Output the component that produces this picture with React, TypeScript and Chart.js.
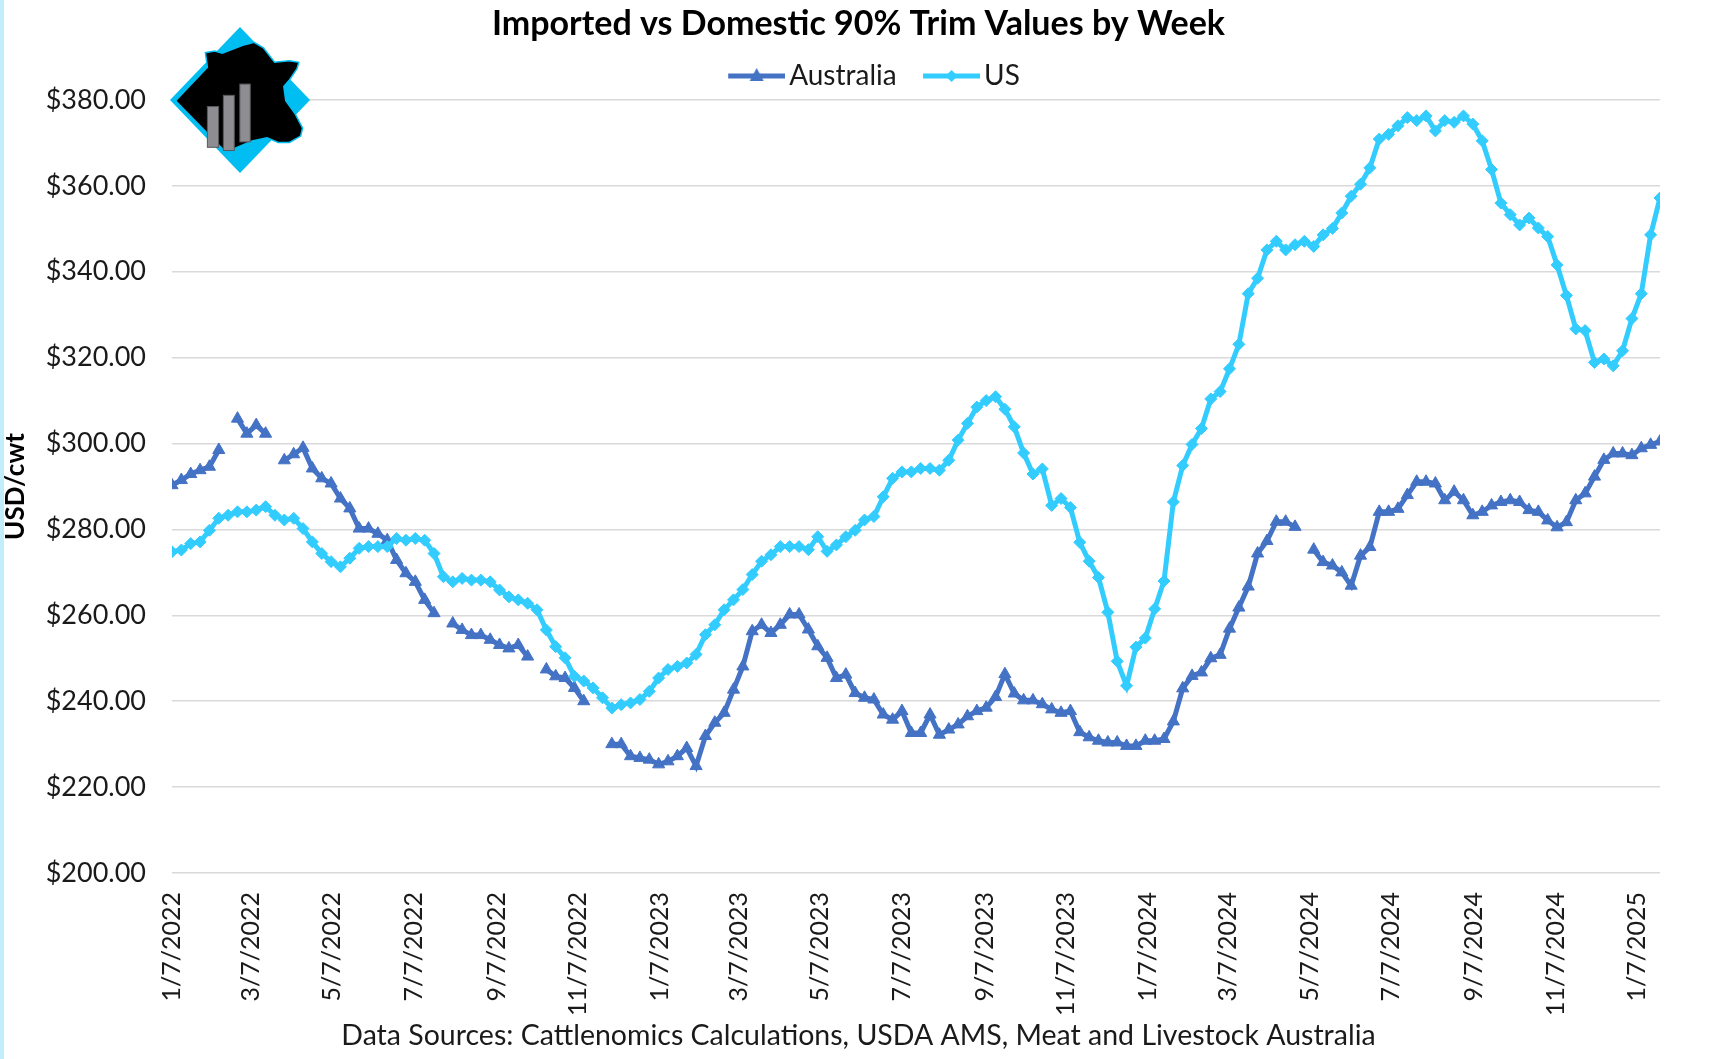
import React, { useEffect, useRef } from 'react';
import { Chart, registerables } from 'chart.js';

Chart.register(...registerables);

const titleText = 'Imported vs Domestic 90% Trim Values by Week';
const sourceText = 'Data Sources: Cattlenomics Calculations, USDA AMS, Meat and Livestock Australia';
const yAxisTitle = 'USD/cwt';
const seriesNames = ['Australia', 'US'];
const firstWeek = '1/7/2022'; // weekly observations start here, one per week
const daysPerWeek = 7;

const australia: (number | null)[] = [
  290.3, 291.5, 292.9, 293.8, 294.6, 298.5, null, 305.8, 302.3, 304.3,
  302.3, null, 296.1, 297.5, 299.0, 294.2, 291.9, 290.7, 287.2, 284.9,
  280.2, 280.2, 279.0, 277.5, 272.9, 269.8, 267.8, 263.6, 260.5, null,
  258.1, 256.6, 255.4, 255.4, 254.3, 253.1, 252.3, 253.1, 250.4, null,
  247.4, 245.8, 245.4, 243.1, 240.0, null, null, 230.0, 230.0, 227.2,
  226.8, 226.4, 225.3, 226.0, 227.2, 229.1, 224.9, 231.9, 235.0, 237.3,
  242.7, 248.1, 256.3, 257.8, 255.9, 257.8, 260.2, 260.2, 256.7, 252.8,
  250.1, 245.4, 246.2, 241.9, 240.8, 240.4, 236.9, 235.7, 237.7, 232.6,
  232.6, 236.9, 232.2, 233.4, 234.6, 236.5, 237.7, 238.5, 241.0, 246.3,
  241.8, 240.2, 240.2, 239.3, 238.1, 237.3, 237.7, 232.8, 231.6, 230.8,
  230.4, 230.4, 229.6, 229.6, 230.8, 230.8, 231.2, 235.3, 243.0, 245.9,
  246.7, 250.0, 250.8, 256.9, 261.8, 266.7, 274.4, 277.3, 281.8, 281.8,
  280.6, null, 275.3, 272.4, 271.6, 270.0, 266.9, 273.9, 275.9, 284.1,
  284.1, 284.8, 288.0, 291.1, 291.1, 290.7, 286.8, 288.8, 286.8, 283.3,
  284.1, 285.6, 286.4, 286.8, 286.4, 284.5, 284.1, 282.1, 280.5, 281.7,
  286.8, 288.4, 292.3, 296.2, 297.7, 297.7, 297.3, 298.9, 299.7, 300.5,
];

const us: (number | null)[] = [
  274.8, 275.2, 276.7, 277.1, 279.8, 282.6, 283.3, 284.1, 284.1, 284.5,
  285.3, 283.3, 282.2, 282.6, 280.2, 277.1, 274.4, 272.5, 271.3, 273.3,
  275.6, 276.0, 276.0, 276.0, 277.9, 277.5, 277.9, 277.5, 274.4, 269.0,
  267.8, 268.6, 268.2, 268.2, 267.8, 265.9, 264.3, 263.6, 262.8, 261.3,
  256.6, 252.7, 250.1, 245.8, 244.7, 243.1, 240.8, 238.4, 239.2, 239.6,
  240.4, 242.3, 245.4, 247.4, 248.1, 248.9, 250.9, 255.5, 257.8, 261.3,
  263.6, 266.0, 269.5, 272.6, 274.1, 276.0, 276.0, 276.0, 275.3, 278.3,
  274.9, 276.4, 278.3, 279.8, 282.2, 283.0, 287.6, 291.9, 293.4, 293.4,
  294.2, 294.2, 293.8, 296.1, 300.8, 304.7, 308.5, 310.0, 310.9, 308.0,
  303.9, 297.8, 292.9, 294.1, 285.6, 287.2, 285.1, 277.0, 272.6, 268.8,
  260.7, 249.3, 243.6, 252.6, 254.7, 261.5, 268.0, 286.4, 294.9, 299.8,
  303.5, 310.4, 312.1, 317.4, 323.1, 334.9, 338.5, 345.1, 347.1, 345.1,
  346.3, 347.1, 345.9, 348.6, 350.1, 353.7, 357.6, 360.4, 364.2, 370.9,
  372.0, 374.0, 375.9, 375.2, 376.3, 372.8, 375.2, 374.8, 376.3, 374.4,
  370.5, 363.8, 356.0, 353.3, 350.9, 352.5, 350.2, 348.2, 341.6, 334.5,
  326.7, 326.3, 318.9, 319.7, 318.1, 321.6, 329.1, 334.9, 348.6, 357.2,
];

const xTickLabels = [
  '1/7/2022', '3/7/2022', '5/7/2022', '7/7/2022', '9/7/2022', '11/7/2022',
  '1/7/2023', '3/7/2023', '5/7/2023', '7/7/2023', '9/7/2023', '11/7/2023',
  '1/7/2024', '3/7/2024', '5/7/2024', '7/7/2024', '9/7/2024', '11/7/2024',
  '1/7/2025',
];
const yMin = 200;
const yMax = 380;
const yStep = 20;

const AU_COLOR = '#4472C4';
const US_COLOR = '#33CCFF';
const FONT = 'Lato';

function parseMDY(s: string) {
  const [m, d, y] = s.split('/').map(Number);
  return Date.UTC(y, m - 1, d);
}
const DAY_MS = 86400000;
const t0 = parseMDY(firstWeek);
const tickDays = xTickLabels.map((l) => (parseMDY(l) - t0) / DAY_MS);
const weekDay = (i: number) => i * daysPerWeek;

// legend sample: transparent lead-in, then a 57px line with a marker in its middle
function makeLegendMarker(color: string, shape: 'triangle' | 'diamond') {
  const c = document.createElement('canvas');
  c.width = 76;
  c.height = 22;
  const ctx = c.getContext('2d')!;
  const x0 = 19;
  const cx = 47.5;
  ctx.strokeStyle = color;
  ctx.lineWidth = 5;
  ctx.beginPath();
  ctx.moveTo(x0, 11);
  ctx.lineTo(76, 11);
  ctx.stroke();
  ctx.fillStyle = color;
  ctx.beginPath();
  if (shape === 'triangle') {
    ctx.moveTo(cx, 3);
    ctx.lineTo(cx + 7, 16);
    ctx.lineTo(cx - 7, 16);
  } else {
    ctx.moveTo(cx, 5);
    ctx.lineTo(cx + 6, 11);
    ctx.lineTo(cx, 17);
    ctx.lineTo(cx - 6, 11);
  }
  ctx.closePath();
  ctx.fill();
  return c;
}

// decorative logo (relative shape inside its box)
const logoBox = { x: 170, y: 27, w: 140, h: 146 };
const cowShape = [
  [0.04, 0.505], [0.267, 0.275], [0.253, 0.176], [0.32, 0.165], [0.373, 0.18],
  [0.533, 0.121], [0.6, 0.105], [0.667, 0.143], [0.747, 0.242], [0.853, 0.231],
  [0.92, 0.242], [0.907, 0.286], [0.853, 0.363], [0.813, 0.407], [0.827, 0.505],
  [0.893, 0.593], [0.947, 0.692], [0.933, 0.747], [0.853, 0.791], [0.773, 0.791],
  [0.693, 0.758], [0.587, 0.78], [0.427, 0.846], [0.387, 0.846],
];
const logoBars = [
  [0.267, 0.545, 0.347, 0.824],
  [0.381, 0.468, 0.459, 0.846],
  [0.499, 0.391, 0.573, 0.787],
];

const logoPlugin = {
  id: 'logo',
  afterDraw(chart: any) {
    const ctx = chart.ctx as CanvasRenderingContext2D;
    const { x, y, w, h } = logoBox;
    const px = (u: number) => x + u * w;
    const py = (v: number) => y + v * h;
    ctx.save();
    ctx.fillStyle = '#00BDF2';
    ctx.beginPath();
    ctx.moveTo(px(0), py(0.5));
    ctx.lineTo(px(0.5), py(0));
    ctx.lineTo(px(1), py(0.5));
    ctx.lineTo(px(0.5), py(1));
    ctx.closePath();
    ctx.fill();
    ctx.fillStyle = '#000';
    ctx.strokeStyle = '#00BDF2';
    ctx.lineWidth = 1.5;
    ctx.beginPath();
    cowShape.forEach(([u, v], i) => (i === 0 ? ctx.moveTo(px(u), py(v)) : ctx.lineTo(px(u), py(v))));
    ctx.closePath();
    ctx.fill();
    ctx.stroke();
    ctx.fillStyle = '#8E8E92';
    ctx.strokeStyle = '#5A5A5E';
    ctx.lineWidth = 1;
    logoBars.forEach(([u1, v1, u2, v2]) => {
      ctx.fillRect(px(u1), py(v1), px(u2) - px(u1), py(v2) - py(v1));
      ctx.strokeRect(px(u1), py(v1), px(u2) - px(u1), py(v2) - py(v1));
    });
    ctx.restore();
  },
};

// nudge the legend row slightly right, as in the original
const legendShift = 11;
const legendShiftPlugin = {
  id: 'legendShift',
  afterLayout(chart: any) {
    const lg = chart.legend;
    if (lg) {
      lg.left += legendShift;
      lg.right += legendShift;
    }
  },
};

export default function App() {
  const canvasRef = useRef<HTMLCanvasElement | null>(null);

  useEffect(() => {
    if (!canvasRef.current) return;
    const markers = [makeLegendMarker(AU_COLOR, 'triangle'), makeLegendMarker(US_COLOR, 'diamond')];
    const chart = new Chart(canvasRef.current, {
      type: 'line',
      data: {
        datasets: [
          {
            label: seriesNames[0],
            data: australia.map((v, i) => ({ x: weekDay(i), y: v })) as any,
            borderColor: AU_COLOR,
            backgroundColor: AU_COLOR,
            pointBackgroundColor: AU_COLOR,
            pointBorderColor: AU_COLOR,
            pointStyle: 'triangle',
            pointRadius: 7,
            pointBorderWidth: 1,
            borderWidth: 5,
            tension: 0,
            spanGaps: false,
            order: 1,
          },
          {
            label: seriesNames[1],
            data: us.map((v, i) => ({ x: weekDay(i), y: v })) as any,
            borderColor: US_COLOR,
            backgroundColor: US_COLOR,
            pointBackgroundColor: US_COLOR,
            pointBorderColor: US_COLOR,
            pointStyle: 'rectRot',
            pointRadius: 6,
            pointBorderWidth: 1,
            borderWidth: 5,
            tension: 0,
            spanGaps: false,
            order: 0,
          },
        ],
      },
      options: {
        animation: false,
        responsive: true,
        maintainAspectRatio: false,
        layout: { padding: 0 },
        plugins: {
          title: {
            display: true,
            text: titleText,
            color: '#000',
            font: { family: FONT, size: 34, weight: 'bold' },
            padding: { top: 3.8, bottom: 0 },
          },
          legend: {
            display: true,
            position: 'top',
            labels: {
              color: '#1a1a1a',
              font: { family: FONT, size: 28 },
              usePointStyle: true,
              pointStyleWidth: 56,
              padding: 17.4,
              sort: (a: any, b: any) => a.datasetIndex - b.datasetIndex,
              generateLabels: (ch: any) => {
                const items = Chart.defaults.plugins.legend.labels.generateLabels(ch);
                return items.map((it: any) => ({ ...it, pointStyle: markers[it.datasetIndex] }));
              },
            },
          },
          subtitle: {
            display: true,
            position: 'bottom',
            text: sourceText,
            color: '#1a1a1a',
            font: { family: FONT, size: 28.5 },
            padding: { top: 2, bottom: 5.9 },
          },
          tooltip: { enabled: false },
        },
        scales: {
          x: {
            type: 'linear',
            min: 0,
            max: weekDay(australia.length - 1),
            grid: { display: false, drawTicks: false },
            border: { display: false },
            afterBuildTicks: (scale: any) => {
              scale.ticks = tickDays.map((v) => ({ value: v }));
            },
            afterFit: (scale: any) => {
              scale.height = 143.9;
            },
            ticks: {
              autoSkip: false,
              minRotation: 90,
              maxRotation: 90,
              padding: 19,
              color: '#1a1a1a',
              font: { family: FONT, size: 25 },
              callback: (_v: any, i: number) => xTickLabels[i],
            },
          },
          y: {
            type: 'linear',
            position: 'left',
            min: yMin,
            max: yMax,
            grid: { color: '#D9D9D9', lineWidth: 1.5, drawTicks: false },
            border: { display: false },
            afterFit: (scale: any) => {
              scale.width = 172;
            },
            title: {
              display: true,
              text: yAxisTitle,
              color: '#000',
              font: { family: FONT, size: 26, weight: 'bold' },
              padding: { top: 0.4, bottom: 0 },
            },
            ticks: {
              stepSize: yStep,
              padding: 26,
              color: '#1a1a1a',
              font: { family: FONT, size: 27 },
              callback: (v: any) => '$' + Number(v).toFixed(2),
            },
          },
          y2: {
            type: 'linear',
            position: 'right',
            display: true,
            min: yMin,
            max: yMax,
            grid: { display: false, drawTicks: false },
            border: { display: false },
            ticks: { display: false },
            afterFit: (scale: any) => {
              scale.width = 57;
            },
          },
        },
      } as any,
      plugins: [logoPlugin, legendShiftPlugin],
    });
    return () => chart.destroy();
  }, []);

  return (
    <div style={{ position: 'fixed', left: 0, top: 0, width: 1717, height: 1059, background: '#fff' }}>
      <canvas ref={canvasRef} />
      <div style={{ position: 'absolute', left: 0, top: 0, width: 4, height: 1059, background: '#C2EEFB' }} />
    </div>
  );
}
